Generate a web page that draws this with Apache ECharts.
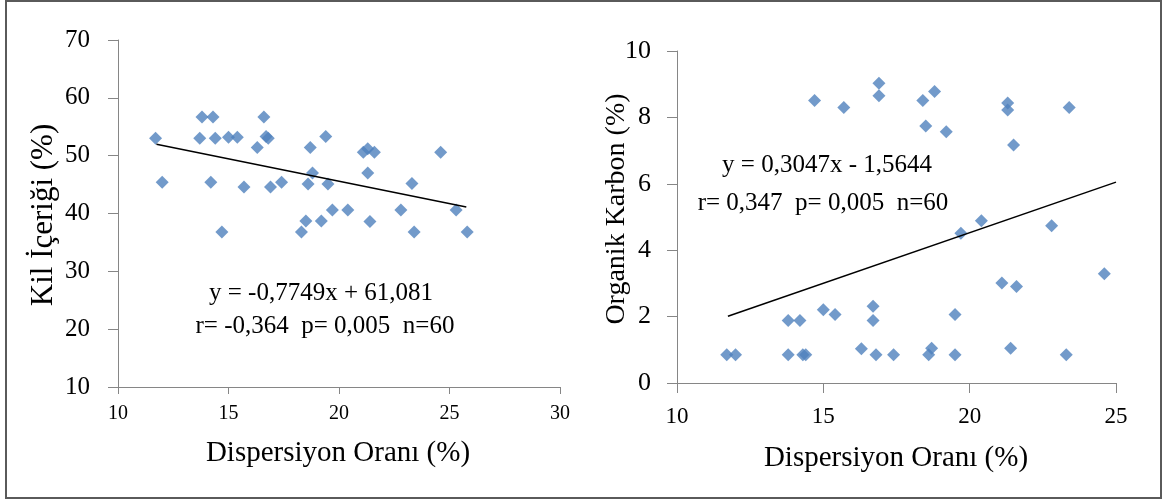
<!DOCTYPE html>
<html><head><meta charset="utf-8">
<script src="https://cdn.jsdelivr.net/npm/echarts@6/dist/echarts.min.js"></script>
<style>html,body{margin:0;padding:0;background:#fff}#c{width:1163px;height:501px}</style>
</head><body><div id="c"></div>
<script>
// Left chart: Dispersiyon Oranı vs Kil İçeriği
const leftX = [11.7,12.0,13.7,13.8,14.3,14.2,14.4,14.7,15.0,15.4,15.7,16.3,16.6,16.7,16.8,16.9,17.4,18.3,18.5,18.6,18.7,18.8,19.2,19.4,19.5,19.7,20.4,21.1,21.3,21.3,21.4,21.6,22.8,23.3,23.4,24.6,25.3,25.8];
const leftY = [53.0,45.4,53.0,56.7,56.7,45.4,53.0,36.8,53.2,53.2,44.6,51.4,56.7,53.3,53.0,44.6,45.4,36.8,38.7,45.1,51.4,47.0,38.7,53.3,45.1,40.6,40.6,50.6,47.0,51.2,38.6,50.6,40.6,45.2,36.8,50.6,40.6,36.8];
const leftTrend = [[11.74,51.98],[25.76,41.12]];
// Right chart: Dispersiyon Oranı vs Organik Karbon
const rightX = [11.7,12.0,13.8,13.8,14.2,14.3,14.4,14.7,15.0,15.4,15.7,16.3,16.7,16.7,16.8,16.9,16.9,17.4,18.4,18.5,18.6,18.7,18.8,19.2,19.5,19.5,19.7,20.4,21.1,21.3,21.3,21.4,21.5,21.6,22.8,23.3,23.4,24.6];
const rightY = [0.85,0.85,0.85,1.88,1.88,0.85,0.85,8.51,2.21,2.06,8.30,1.03,1.88,2.31,0.85,9.03,8.65,0.85,8.51,7.74,0.85,1.05,8.78,7.57,2.06,0.85,4.51,4.89,3.01,8.43,8.22,1.05,7.17,2.91,4.74,0.85,8.30,3.29];
const rightTrend = [[11.74,2.01],[25.0,6.05]];
const leftXTicks = {min:10,max:30,interval:5};
const leftYTicks = {min:10,max:70,interval:10};
const rightXTicks = {min:10,max:25,interval:5};
const rightYTicks = {min:0,max:10,interval:2};
const texts = {
  xTitle:'Dispersiyon Oranı (%)',
  leftYTitle:'Kil İçeriği (%)',
  rightYTitle:'Organik Karbon (%)',
  leftEq1:'y = -0,7749x + 61,081',
  leftEq2:'r= -0,364  p= 0,005  n=60',
  rightEq1:'y = 0,3047x - 1,5644',
  rightEq2:'r= 0,347  p= 0,005  n=60'
};

const FF = "'Liberation Serif','Times New Roman',serif";
const pts = (xs, ys) => xs.map((x,i)=>[x, ys[i]]);
const axisLine = {show:true, lineStyle:{color:'#868686', width:1}};
function ax(idx, t, fs, margin, tickLen){
  return {type:'value', gridIndex:idx, min:t.min, max:t.max, interval:t.interval,
    axisLine:axisLine, axisTick:{show:true, length:tickLen, lineStyle:{color:'#868686'}},
    splitLine:{show:false}, axisLabel:{color:'#000', fontFamily:FF, fontSize:fs, margin:margin}};
}
function txt(x, y, s, fs, rot){
  return {type:'text', x:x, y:y, rotation:rot||0,
    style:{text:s, fill:'#000', font: fs+'px '+FF, textAlign:'center', textVerticalAlign:'middle'}};
}
const chart = echarts.init(document.getElementById('c'), null, {renderer:'canvas'});
chart.setOption({
  animation:false,
  backgroundColor:'#fff',
  grid:[
    {left:118, top:40, width:442, height:347},
    {left:677, top:51, width:439, height:332}
  ],
  xAxis:[ax(0,leftXTicks,20,17,7), ax(1,rightXTicks,23,22,10)],
  yAxis:[ax(0,leftYTicks,25,28,10), ax(1,rightYTicks,26,26,10)],
  series:[
    {type:'scatter', xAxisIndex:0, yAxisIndex:0, data:pts(leftX,leftY), symbol:'diamond', symbolSize:13, itemStyle:{color:'#4F81BD'}},
    {type:'line', xAxisIndex:0, yAxisIndex:0, data:leftTrend, symbol:'none', lineStyle:{color:'#000', width:1.5}, z:3},
    {type:'scatter', xAxisIndex:1, yAxisIndex:1, data:pts(rightX,rightY), symbol:'diamond', symbolSize:13, itemStyle:{color:'#4F81BD'}},
    {type:'line', xAxisIndex:1, yAxisIndex:1, data:rightTrend, symbol:'none', lineStyle:{color:'#000', width:1.5}, z:3}
  ],
  graphic:[
    {type:'rect', shape:{x:6, y:1, width:1155, height:497}, style:{fill:'none', stroke:'#5a5a5a', lineWidth:2}},
    txt(338, 453, texts.xTitle, 29),
    txt(896, 458, texts.xTitle, 29),
    txt(44, 215, texts.leftYTitle, 31, Math.PI/2),
    txt(617, 209, texts.rightYTitle, 28, Math.PI/2),
    txt(321, 293, texts.leftEq1, 25),
    txt(325, 326, texts.leftEq2, 25),
    txt(827, 165, texts.rightEq1, 25),
    txt(823, 203, texts.rightEq2, 25)
  ]
});
</script></body></html>
